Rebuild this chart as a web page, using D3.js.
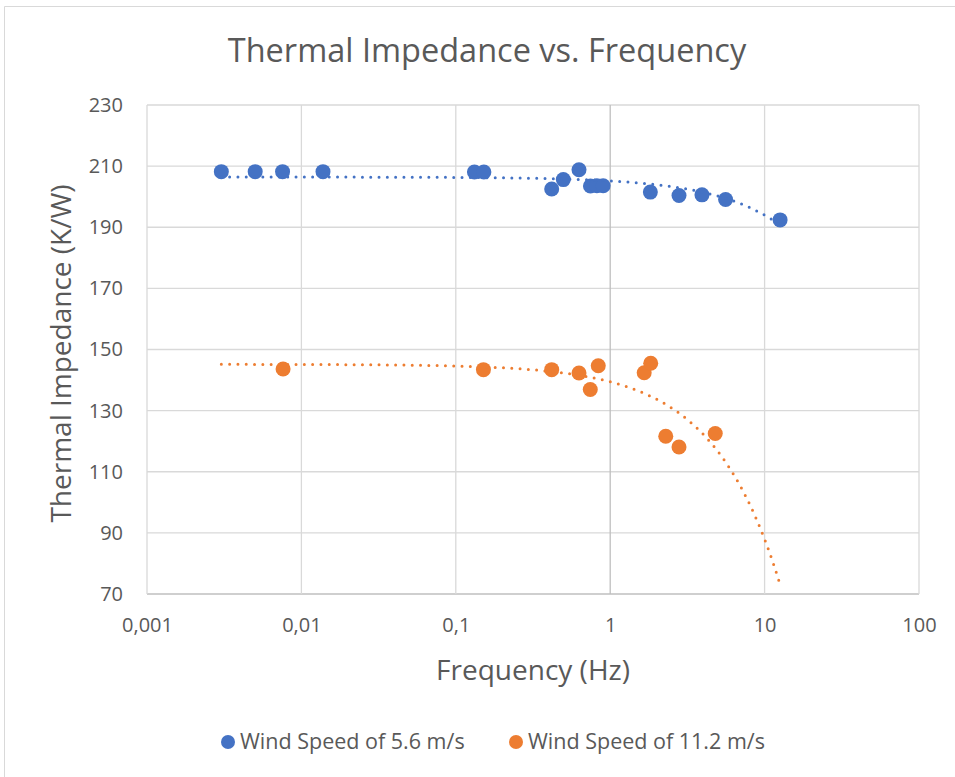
<!DOCTYPE html>
<html><head><meta charset="utf-8">
<script src="https://cdn.jsdelivr.net/npm/d3@7"></script>
<style>
html,body{margin:0;padding:0;background:#fff;}
svg{display:block;font-family:"Open Sans",sans-serif;}
</style></head>
<body>
<svg id="chart" width="955" height="777"></svg>
<script>
// ---- data ----
const title = "Thermal Impedance vs. Frequency";
const xTitle = "Frequency (Hz)";
const yTitle = "Thermal Impedance (K/W)";
const seriesNames = ["Wind Speed of 5.6 m/s", "Wind Speed of 11.2 m/s"];
const seriesColors = ["#4472C4", "#ED7D31"];
const freq56 = [0.00303, 0.00502, 0.00755, 0.0138, 0.132, 0.152, 0.418, 0.497, 0.628, 0.745, 0.82, 0.90, 1.82, 2.79, 3.93, 5.59, 12.6];
const z56    = [208.2, 208.2, 208.2, 208.2, 208.1, 208.1, 202.5, 205.6, 208.8, 203.5, 203.6, 203.6, 201.5, 200.4, 200.6, 199.1, 192.4];
const freq112 = [0.00761, 0.151, 0.418, 0.628, 0.743, 0.837, 1.66, 1.83, 2.29, 2.79, 4.79];
const z112    = [143.6, 143.4, 143.4, 142.3, 136.9, 144.7, 142.4, 145.5, 121.6, 118.1, 122.5];
const xTicks = [0.001, 0.01, 0.1, 1, 10, 100];
const xTickLabels = ["0,001", "0,01", "0,1", "1", "10", "100"];
const yTicks = [70, 90, 110, 130, 150, 170, 190, 210, 230];

// ---- layout ----
const svg = d3.select("#chart");
const L = 147, R = 919, T = 105, B = 594;
const x = d3.scaleLog().domain([0.001, 100]).range([L, R]);
const y = d3.scaleLinear().domain([70, 230]).range([B, T]);
const textColor = "#595959";

// outer frame
svg.append("path").attr("d", "M4.5,777 V6.5 H955").attr("fill", "none").attr("stroke", "#d9d9d9").attr("stroke-width", 1);

// title
svg.append("text").attr("x", 487).attr("y", 62).attr("text-anchor", "middle")
  .attr("font-size", 32.5).attr("fill", textColor).text(title);

// grid
const g = svg.append("g");
g.selectAll("line.h").data(yTicks).join("line")
  .attr("x1", L).attr("x2", R).attr("y1", d => y(d)).attr("y2", d => y(d))
  .attr("stroke", d => d === 70 ? "#bfbfbf" : "#d9d9d9").attr("stroke-width", 1.3);
g.selectAll("line.v").data(xTicks).join("line")
  .attr("y1", T).attr("y2", B).attr("x1", d => x(d)).attr("x2", d => x(d))
  .attr("stroke", d => d === 1 ? "#bfbfbf" : "#d9d9d9").attr("stroke-width", 1.3);

// axes labels via d3 axes (no domain/ticks lines)
const xAxis = d3.axisBottom(x).tickValues(xTicks).tickFormat((d, i) => xTickLabels[i]).tickSize(0).tickPadding(24);
const xa = svg.append("g").attr("transform", `translate(0,${B})`).call(xAxis);
xa.select(".domain").remove();
xa.selectAll("text").attr("font-size", 20).attr("fill", textColor).attr("font-family", "Open Sans");

const yAxis = d3.axisLeft(y).tickValues(yTicks).tickSize(0).tickPadding(24);
const ya = svg.append("g").attr("transform", `translate(${L},0)`).call(yAxis);
ya.select(".domain").remove();
ya.selectAll("text").attr("font-size", 20).attr("fill", textColor).attr("font-family", "Open Sans");

// axis titles
svg.append("text").attr("x", (L + R) / 2).attr("y", 680).attr("text-anchor", "middle")
  .attr("font-size", 28).attr("fill", textColor).text(xTitle);
svg.append("text").attr("transform", `translate(71,${(T + B) / 2 + 4}) rotate(-90)`).attr("text-anchor", "middle")
  .attr("font-size", 28).attr("fill", textColor).text(yTitle);

// series
const series = [
  {f: freq56, z: z56, color: seriesColors[0]},
  {f: freq112, z: z112, color: seriesColors[1]}
];
series.forEach(s => {
  svg.append("g").selectAll("circle").data(s.f.map((f, i) => [f, s.z[i]])).join("circle")
    .attr("cx", d => x(d[0])).attr("cy", d => y(d[1])).attr("r", 7.5).attr("fill", s.color);
});

// linear trendlines (least squares in linear frequency), drawn on log axis
const allF = freq56.concat(freq112);
const fMin = d3.min(allF), fMax = d3.max(allF);
function fit(fs, zs) {
  const mf = d3.mean(fs), mz = d3.mean(zs);
  let sxy = 0, sxx = 0;
  fs.forEach((f, i) => { sxy += (f - mf) * (zs[i] - mz); sxx += (f - mf) ** 2; });
  const b = sxy / sxx;
  return {a: mz - b * mf, b};
}
const line = d3.line().x(d => x(d[0])).y(d => y(d[1])).curve(d3.curveLinear);
series.forEach(s => {
  const c = fit(s.f, s.z);
  const n = 200;
  const pts = d3.range(n + 1).map(i => {
    const f = Math.pow(10, Math.log10(fMin) + (Math.log10(fMax) - Math.log10(fMin)) * i / n);
    return [f, c.a + c.b * f];
  });
  svg.append("path").attr("d", line(pts)).attr("fill", "none").attr("stroke", s.color)
    .attr("stroke-width", 3).attr("stroke-linecap", "round").attr("stroke-dasharray", "0 8.3");
});

// legend
const legendItems = [{name: seriesNames[0], color: seriesColors[0], x: 228}, {name: seriesNames[1], color: seriesColors[1], x: 516}];
const lg = svg.append("g");
legendItems.forEach(it => {
  lg.append("circle").attr("cx", it.x).attr("cy", 742).attr("r", 7).attr("fill", it.color);
  lg.append("text").attr("x", it.x + 12).attr("y", 749).attr("font-size", 21.5).attr("fill", textColor).text(it.name);
});
</script>
</body></html>
